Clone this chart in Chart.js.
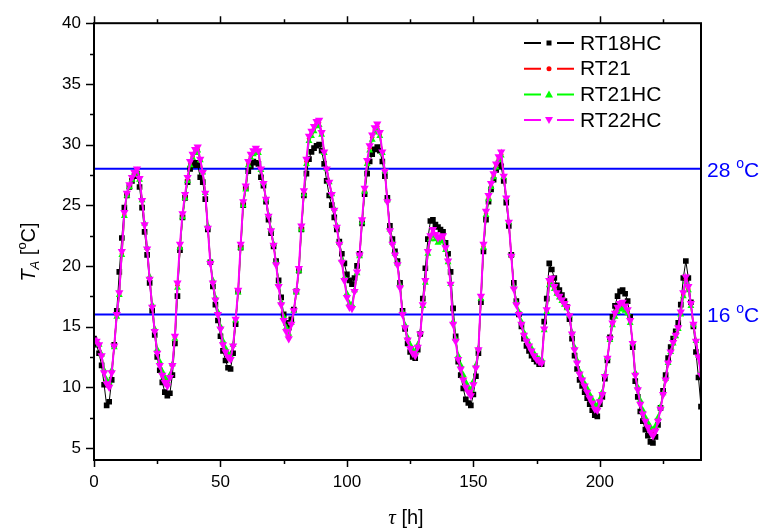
<!DOCTYPE html>
<html>
<head>
<meta charset="utf-8">
<script src="https://cdn.jsdelivr.net/npm/chart.js@4.4.1/dist/chart.umd.min.js"></script>
<style>
    html, body { margin: 0; padding: 0; background: #fff; }
    #wrap { width: 762px; height: 529px; }
</style>
</head>
<body>
<div id="wrap"><canvas id="tempChart" width="762" height="529"></canvas></div>
<script>
// time axis, one reading per hour
const hours = [];
for (let h = 0; h <= 240; h++) hours.push(h);

const rt18hc = [
    14.0,13.5,12.8,11.8,10.2,8.5,8.8,10.6,13.5,16.3,
    19.5,22.3,24.8,25.8,26.5,27.0,27.4,27.6,26.5,24.8,
    22.8,20.9,18.6,16.3,14.3,12.5,11.4,10.4,9.6,9.3,
    9.5,11.0,13.6,17.5,21.3,24.0,25.6,26.9,28.0,28.3,
    28.5,28.3,27.3,26.9,25.5,23.0,20.3,18.3,16.8,15.5,
    14.2,13.0,12.2,11.6,11.5,12.8,15.2,17.9,21.5,25.0,
    26.4,27.8,28.2,28.6,28.5,28.4,27.3,26.6,25.3,23.8,
    22.7,21.6,20.4,18.8,17.4,16.0,15.3,14.9,15.6,16.4,
    17.9,19.6,23.0,25.8,27.6,28.8,29.4,29.7,29.9,30.0,
    29.5,28.4,27.0,25.8,25.0,24.0,23.0,22.0,21.0,20.2,
    19.3,18.8,18.5,19.0,20.0,21.0,23.5,25.9,27.6,28.6,
    29.2,29.6,29.8,29.5,28.6,27.4,25.6,23.3,22.2,21.2,
    20.4,18.6,16.3,14.8,13.6,12.9,12.5,12.4,13.1,14.4,
    17.3,19.8,22.2,23.7,23.8,23.4,23.2,23.0,22.8,21.9,
    21.0,19.5,16.5,14.2,12.1,11.0,9.9,9.0,8.7,8.5,
    9.4,10.9,12.8,17.0,21.2,23.8,25.3,26.3,27.1,27.9,
    28.5,28.2,27.0,25.2,23.3,20.9,18.6,17.1,16.0,15.0,
    14.0,13.4,13.0,12.6,12.3,12.1,11.9,11.9,15.4,17.3,
    20.2,19.7,19.0,18.4,18.0,17.6,17.1,16.6,15.6,14.0,
    12.6,11.5,10.6,10.1,9.6,9.1,8.6,8.1,7.7,7.6,
    8.6,9.2,10.7,12.2,14.1,15.8,16.7,17.5,17.9,18.0,
    17.7,17.1,15.8,13.3,10.5,9.2,8.0,7.2,6.5,6.0,
    5.5,5.4,5.9,6.9,8.3,9.7,11.0,12.4,13.3,14.0,
    14.6,15.3,16.8,19.0,20.4,19.0,17.0,15.0,12.9,10.8,8.4
];

const rt21 = [
    13.9,13.7,13.5,12.6,11.3,10.5,10.2,11.3,13.4,15.9,
    17.7,21.0,24.2,25.9,26.6,27.2,27.6,27.9,27.1,25.4,
    23.4,21.4,19.0,16.7,14.7,12.9,11.9,11.1,10.6,10.3,
    10.9,11.8,14.1,18.4,21.6,24.1,25.7,27.1,28.4,29.0,
    29.4,29.6,28.7,27.7,26.0,23.2,20.3,18.7,17.3,16.1,
    14.9,13.6,13.0,12.6,12.4,13.4,15.5,17.9,21.6,25.1,
    26.4,28.4,29.0,29.3,29.5,29.4,27.9,26.8,25.5,24.1,
    22.9,21.7,20.2,18.4,16.9,15.6,14.7,14.2,15.2,16.3,
    17.8,19.7,23.1,26.0,28.6,30.5,30.9,31.3,31.7,31.8,
    30.9,29.3,28.0,26.9,25.9,24.6,23.2,21.8,20.4,18.9,
    17.5,16.7,16.6,17.9,19.4,20.8,23.7,26.2,28.5,29.7,
    30.6,31.2,31.5,30.8,29.3,27.8,25.3,22.9,21.8,20.9,
    20.1,18.3,16.1,15.0,14.0,13.3,12.9,12.7,13.4,14.4,
    16.7,18.7,21.1,22.3,22.8,22.4,22.1,22.2,22.3,21.4,
    20.3,18.5,15.3,13.9,12.4,11.6,10.8,10.2,9.8,9.5,
    10.3,11.7,13.1,17.4,21.6,24.3,25.6,26.6,27.4,28.2,
    28.8,29.2,27.3,25.6,23.6,20.8,18.2,16.9,16.1,15.3,
    14.4,13.9,13.5,13.1,12.7,12.4,12.2,12.1,14.7,16.3,
    18.6,18.8,18.2,17.7,17.4,17.1,16.8,16.5,15.9,14.4,
    13.2,12.1,11.2,10.7,10.2,9.7,9.2,8.8,8.4,8.3,
    8.9,9.5,10.9,12.4,13.9,15.2,15.9,16.4,16.6,16.7,
    16.5,16.2,15.4,13.6,11.1,9.9,8.7,7.9,7.3,6.9,
    6.5,6.2,6.6,7.3,8.3,9.4,10.6,12.0,12.9,13.6,
    14.2,14.8,16.1,17.6,18.9,18.1,16.8,15.1,13.8,12.5,11.1
];

const rt21hc = [
    13.8,13.7,13.5,12.7,11.4,10.6,10.4,11.4,13.3,15.8,
    17.6,20.9,24.1,25.8,26.5,27.1,27.5,27.8,27.1,25.4,
    23.5,21.5,19.1,16.8,14.8,13.1,12.1,11.3,10.8,10.5,
    11.0,11.9,14.0,18.2,21.5,24.0,25.6,27.0,28.3,28.9,
    29.3,29.5,28.7,27.7,26.0,23.3,20.4,18.8,17.4,16.2,
    15.0,13.8,13.2,12.8,12.6,13.5,15.5,17.8,21.5,25.0,
    26.3,28.3,28.9,29.2,29.4,29.3,27.9,26.8,25.5,24.2,
    23.0,21.8,20.3,18.5,17.0,15.8,14.9,14.4,15.3,16.3,
    17.8,19.6,23.0,25.9,28.4,30.3,30.7,31.1,31.5,31.6,
    30.8,29.3,28.0,26.9,25.9,24.7,23.3,21.9,20.5,19.0,
    17.7,16.9,16.8,18.0,19.4,20.8,23.6,26.1,28.4,29.5,
    30.4,31.0,31.3,30.7,29.3,27.8,25.4,23.0,21.9,21.0,
    20.2,18.4,16.2,15.1,14.1,13.5,13.1,12.9,13.5,14.5,
    16.7,18.6,21.0,22.2,22.5,22.2,21.9,22.0,22.1,21.3,
    20.3,18.5,15.4,14.0,12.6,11.8,11.0,10.4,10.0,9.8,
    10.5,11.8,13.2,17.3,21.5,24.2,25.5,26.5,27.3,28.1,
    28.7,29.1,27.3,25.6,23.6,20.9,18.3,17.0,16.2,15.4,
    14.5,14.0,13.6,13.2,12.8,12.5,12.3,12.3,14.7,16.2,
    18.4,18.6,18.1,17.7,17.4,17.1,16.8,16.5,15.9,14.5,
    13.3,12.2,11.3,10.8,10.3,9.9,9.4,9.0,8.6,8.5,
    9.0,9.6,11.0,12.4,13.9,15.1,15.8,16.2,16.4,16.5,
    16.3,16.1,15.3,13.6,11.2,10.0,8.9,8.1,7.5,7.1,
    6.7,6.5,6.8,7.5,8.4,9.5,10.7,12.0,12.9,13.6,
    14.2,14.8,16.0,17.5,18.7,18.0,16.7,15.1,13.8,12.6,11.2
];

const rt22hc = [
    13.9,13.8,13.5,12.6,11.2,10.3,10.0,11.2,13.4,16.0,
    17.8,21.2,24.4,26.0,26.7,27.3,27.7,28.0,27.2,25.4,
    23.4,21.4,18.9,16.6,14.6,12.8,11.8,11.0,10.4,10.1,
    10.8,11.8,14.2,18.6,21.8,24.3,25.9,27.3,28.6,29.2,
    29.6,29.8,28.8,27.7,26.0,23.1,20.2,18.6,17.2,16.0,
    14.8,13.5,12.9,12.5,12.3,13.4,15.6,18.0,21.8,25.3,
    26.6,28.6,29.2,29.5,29.7,29.5,28.0,26.8,25.5,24.1,
    22.9,21.7,20.1,18.3,16.8,15.5,14.6,14.0,15.2,16.3,
    17.9,19.8,23.3,26.2,28.8,30.7,31.1,31.5,31.9,32.0,
    31.0,29.4,28.0,26.9,25.9,24.6,23.2,21.8,20.3,18.8,
    17.4,16.6,16.5,17.9,19.5,20.9,23.8,26.4,28.7,29.9,
    30.8,31.4,31.7,31.0,29.4,27.8,25.3,22.9,21.8,20.9,
    20.1,18.2,16.0,14.9,13.9,13.2,12.8,12.6,13.3,14.4,
    16.8,18.8,21.2,22.5,23.0,22.6,22.3,22.4,22.5,21.5,
    20.4,18.5,15.2,13.8,12.3,11.5,10.6,10.0,9.6,9.3,
    10.2,11.6,13.1,17.5,21.8,24.5,25.8,26.8,27.6,28.4,
    29.0,29.4,27.4,25.6,23.6,20.8,18.1,16.8,16.0,15.2,
    14.3,13.8,13.4,13.0,12.6,12.3,12.1,12.0,14.8,16.4,
    18.8,19.0,18.3,17.8,17.5,17.2,16.9,16.6,15.9,14.4,
    13.1,12.0,11.1,10.6,10.1,9.6,9.1,8.7,8.2,8.1,
    8.8,9.4,10.9,12.4,14.0,15.3,16.1,16.6,16.9,17.0,
    16.7,16.4,15.5,13.6,11.0,9.8,8.6,7.8,7.2,6.7,
    6.3,6.0,6.4,7.2,8.2,9.4,10.6,12.0,12.9,13.7,
    14.3,14.9,16.2,17.8,19.1,18.3,16.9,15.2,13.8,12.5,11.0
];

const seriesNames = ["RT18HC", "RT21", "RT21HC", "RT22HC"];
const limits = [28, 16];

const FONT = "'Liberation Sans', Arial, sans-serif";
const BLUE = "#0000ff";

function toPoints(vals) {
    return vals.map((v, i) => ({ x: hours[i], y: v }));
}

// marker painter for the legend
function marker(ctx, style, x, y, r, color) {
    ctx.save();
    ctx.fillStyle = color;
    ctx.beginPath();
    if (style === "rect") {
        ctx.rect(x - r, y - r, 2 * r, 2 * r);
    } else if (style === "circle") {
        ctx.arc(x, y, r, 0, Math.PI * 2);
    } else if (style === "up") {
        ctx.moveTo(x, y - r);
        ctx.lineTo(x + r, y + r * 0.8);
        ctx.lineTo(x - r, y + r * 0.8);
    } else {
        ctx.moveTo(x, y + r);
        ctx.lineTo(x + r, y - r * 0.8);
        ctx.lineTo(x - r, y - r * 0.8);
    }
    ctx.closePath();
    ctx.fill();
    ctx.restore();
}

const decorations = {
    id: "decorations",
    afterDatasetsDraw(chart) {
        const ctx = chart.ctx;
        const a = chart.chartArea;
        const xs = chart.scales.x, ys = chart.scales.y;
        ctx.save();

        // frame
        ctx.strokeStyle = "#000";
        ctx.lineWidth = 2;
        ctx.strokeRect(a.left, a.top, a.right - a.left, a.bottom - a.top);

        // ticks (major + minor), outward
        ctx.lineWidth = 1.5;
        ctx.beginPath();
        for (let v = 0; v <= 240; v += 25) {
            const px = Math.round(xs.getPixelForValue(v)) + 0.5;
            const len = v % 50 === 0 ? 7 : 4;
            ctx.moveTo(px, a.bottom); ctx.lineTo(px, a.bottom + len);
            ctx.moveTo(px, a.top); ctx.lineTo(px, a.top - len);
        }
        for (let v = 5; v <= 40; v += 2.5) {
            const py = Math.round(ys.getPixelForValue(v)) + 0.5;
            const len = v % 5 === 0 ? 8 : 4;
            ctx.moveTo(a.left - len, py); ctx.lineTo(a.left, py);
        }
        ctx.stroke();

        // x title: tau [h]
        ctx.fillStyle = "#000";
        ctx.textBaseline = "alphabetic";
        const tau = "\u03c4", hPart = " [h]";
        ctx.font = "italic 21px 'Liberation Serif', serif";
        const wTau = ctx.measureText(tau).width;
        ctx.font = "20px " + FONT;
        const wH = ctx.measureText(hPart).width;
        let x0 = 406 - (wTau + wH) / 2;
        ctx.font = "italic 21px 'Liberation Serif', serif";
        ctx.fillText(tau, x0, 524);
        ctx.font = "20px " + FONT;
        ctx.fillText(hPart, x0 + wTau, 524);

        // y title: T_A [oC]
        ctx.save();
        ctx.translate(35, 252);
        ctx.rotate(-Math.PI / 2);
        const parts = [
            { t: "T", f: "italic 20px " + FONT, dy: 0 },
            { t: "A", f: "italic 13px " + FONT, dy: 4 },
            { t: " [", f: "20px " + FONT, dy: 0 },
            { t: "o", f: "13px " + FONT, dy: -9 },
            { t: "C]", f: "20px " + FONT, dy: 0 }
        ];
        let total = 0;
        parts.forEach(p => { ctx.font = p.f; p.w = ctx.measureText(p.t).width; total += p.w; });
        let cx = -total / 2;
        parts.forEach(p => { ctx.font = p.f; ctx.fillText(p.t, cx, p.dy); cx += p.w; });
        ctx.restore();

        // limit labels at right
        ctx.fillStyle = BLUE;
        limits.forEach(v => {
            const py = ys.getPixelForValue(v) + 8;
            let lx = a.right + 6;
            ctx.font = "21px " + FONT;
            ctx.fillText(v + " ", lx, py);
            lx += ctx.measureText(v + " ").width;
            ctx.font = "14px " + FONT;
            ctx.fillText("o", lx, py - 9);
            lx += ctx.measureText("o").width;
            ctx.font = "21px " + FONT;
            ctx.fillText("C", lx, py);
        });

        // legend: line - marker - line
        ctx.textBaseline = "middle";
        ctx.font = "21px " + FONT;
        chart.data.datasets.filter(d => seriesNames.includes(d.label)).forEach((d, i) => {
            const ly = 43 + i * 25.7;
            ctx.strokeStyle = d.borderColor;
            ctx.lineWidth = 2;
            ctx.beginPath();
            ctx.moveTo(524, ly); ctx.lineTo(541, ly);
            ctx.moveTo(557, ly); ctx.lineTo(574, ly);
            ctx.stroke();
            marker(ctx, d.legendMarker, 549, ly, d.legendSize, d.borderColor);
            ctx.fillStyle = "#000";
            ctx.fillText(d.label, 580, ly + 1);
        });

        ctx.restore();
    }
};

const datasets = [
    {
        label: "RT18HC", data: toPoints(rt18hc), borderColor: "#000000", backgroundColor: "#000000",
        borderWidth: 1, pointStyle: "rect", pointRadius: 4, pointBorderWidth: 0,
        legendMarker: "rect", legendSize: 2.5, order: 4
    },
    {
        label: "RT21", data: toPoints(rt21), borderColor: "#ff0000", backgroundColor: "#ff0000",
        borderWidth: 1.5, pointStyle: "circle", pointRadius: 2.2, pointBorderWidth: 0,
        legendMarker: "circle", legendSize: 2.5, order: 3
    },
    {
        label: "RT21HC", data: toPoints(rt21hc), borderColor: "#00ff00", backgroundColor: "#00ff00",
        borderWidth: 1.5, pointStyle: "triangle", pointRadius: 4, pointBorderWidth: 0,
        legendMarker: "up", legendSize: 4, order: 2
    },
    {
        label: "RT22HC", data: toPoints(rt22hc), borderColor: "#ff00ff", backgroundColor: "#ff00ff",
        borderWidth: 2, pointStyle: "triangle", pointRotation: 180, pointRadius: 4.8, pointBorderWidth: 0,
        legendMarker: "down", legendSize: 4, order: 1
    }
];

limits.forEach(v => {
    datasets.push({
        label: "limit " + v,
        data: [{ x: hours[0], y: v }, { x: hours[hours.length - 1], y: v }],
        borderColor: BLUE, borderWidth: 2, pointRadius: 0, order: 5
    });
});

new Chart(document.getElementById("tempChart"), {
    type: "line",
    data: { datasets: datasets },
    options: {
        responsive: false,
        animation: false,
        devicePixelRatio: 1,
        layout: { padding: { left: 0, right: 61, top: 16, bottom: 0 } },
        elements: { line: { tension: 0 } },
        plugins: {
            legend: { display: false },
            tooltip: { enabled: false }
        },
        scales: {
            x: {
                type: "linear",
                min: 0, max: 240,
                grid: { display: false, drawTicks: false },
                border: { display: false },
                ticks: {
                    stepSize: 50, includeBounds: false, maxRotation: 0, padding: 12,
                    color: "#000", font: { size: 17, family: FONT }
                },
                afterFit(scale) { scale.height = 69; }
            },
            y: {
                min: 4, max: 40,
                grid: { display: false, drawTicks: false },
                border: { display: false },
                ticks: {
                    stepSize: 5, includeBounds: false, padding: 13,
                    color: "#000", font: { size: 17, family: FONT }
                },
                afterFit(scale) { scale.width = 94; }
            }
        }
    },
    plugins: [decorations]
});
</script>
</body>
</html>
